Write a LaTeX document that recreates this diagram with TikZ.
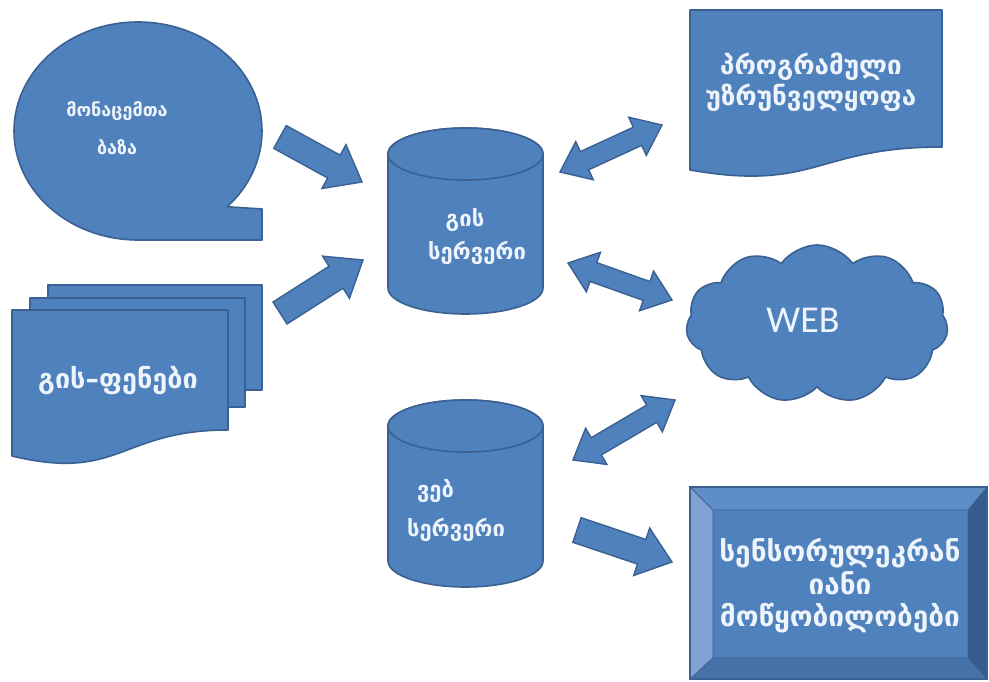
\documentclass[tikz,border=0pt]{standalone}
\usepackage{fontspec}
\newfontfamily\geo{DejaVu Sans}
\newfontfamily\webfont{Carlito}
\usetikzlibrary{calc,shapes.symbols}
\definecolor{fillb}{HTML}{4F81BD}
\definecolor{lineb}{HTML}{3A6192}
\definecolor{txt}{HTML}{EEF4FC}
\definecolor{bevT}{HTML}{5F8DC6}
\definecolor{bevL}{HTML}{7FA2D2}
\definecolor{bevR}{HTML}{365C8E}
\definecolor{bevB}{HTML}{4670A8}
\tikzset{
  shp/.style={fill=fillb, draw=lineb, line width=1.6pt, line join=round},
  lbl/.style={text=txt, font=\geo\bfseries\fontsize{26}{31}\selectfont, align=center, inner sep=0pt},
  srvlbl/.style={text=txt, font=\geo\bfseries\fontsize{22}{33}\selectfont, align=center, inner sep=0pt},
  smalllbl/.style={text=txt, font=\geo\bfseries\fontsize{18}{38}\selectfont, align=center, inner sep=0pt},
  arr/.style={fill=fillb, draw=lineb, line width=1.4pt, line join=miter},
}
\newcommand\singlearrow[2]{%
  \coordinate (hb) at ($(#2)!32pt!(#1)$);
  \draw[arr] ($(#1)!13pt!90:(#2)$) -- ($(hb)!13pt!90:(#2)$) -- ($(hb)!25pt!90:(#2)$) -- (#2)
    -- ($(hb)!25pt!-90:(#2)$) -- ($(hb)!13pt!-90:(#2)$) -- ($(#1)!13pt!-90:(#2)$) -- cycle;
}
\newcommand\doublearrow[2]{%
  \coordinate (ha) at ($(#1)!27pt!(#2)$);
  \coordinate (hb) at ($(#2)!27pt!(#1)$);
  \draw[arr] (#1) -- ($(ha)!21pt!90:(#2)$) -- ($(ha)!10pt!90:(#2)$) -- ($(hb)!10pt!-90:(#1)$)
    -- ($(hb)!21pt!-90:(#1)$) -- (#2) -- ($(hb)!21pt!90:(#1)$) -- ($(hb)!10pt!90:(#1)$)
    -- ($(ha)!10pt!-90:(#2)$) -- ($(ha)!21pt!-90:(#2)$) -- cycle;
}
\begin{document}
\begin{tikzpicture}[x=1pt,y=-1pt]
\useasboundingbox[fill=white] (0,0) rectangle (989,682);

% speech bubble: database
\draw[shp] (138,240) arc[start angle=90, end angle=404, x radius=124, y radius=109]
  -- (262,209) -- (262,240) -- cycle;
\node[smalllbl] (db) at (117,128) {მონაცემთა\\ბაზა};

% stacked documents: GIS layers
\draw[shp] (48,285) rectangle (262,390);
\draw[shp] (30,298) rectangle (245,407);
\draw[shp] (12,310) -- (228,310) -- (228,430) .. controls (120,430) and (120,482) .. (12,456) -- cycle;
\node[lbl, font=\geo\bfseries\fontsize{27}{30}\selectfont] (layers) at (118,381) {გის–ფენები};

% GIS server cylinder
\draw[shp] (388,154) -- (388,288) arc[start angle=180, end angle=0, x radius=77.5, y radius=26]
  -- (543,154) arc[start angle=0, end angle=-180, x radius=77.5, y radius=26] -- cycle;
\draw[shp] (465.5,154) ellipse[x radius=77.5, y radius=26];
\node[srvlbl] (gis) at (477,237) {\hspace*{-24pt}გის\\სერვერი};

% Web server cylinder
\draw[shp] (388,426) -- (388,561) arc[start angle=180, end angle=0, x radius=77.5, y radius=26]
  -- (543,426) arc[start angle=0, end angle=-180, x radius=77.5, y radius=26] -- cycle;
\draw[shp] (465.5,426) ellipse[x radius=77.5, y radius=26];
\node[srvlbl, align=left, font=\geo\bfseries\fontsize{22}{39}\selectfont] (websrv) at (456,510) {\hspace*{10pt}ვებ\\სერვერი};

% software document
\draw[shp] (690,10) -- (942,10) -- (942,147) .. controls (816,147) and (816,192) .. (690,170) -- cycle;
\node[lbl] (soft) at (811,82) {პროგრამული\\უზრუნველყოფა};

% cloud
\node[cloud, cloud puffs=11, cloud puff arc=110, aspect=1.7, shp, minimum width=262pt, minimum height=158pt, inner sep=0pt] (webcloud) at (817,324) {};
\node[text=txt, font=\webfont\fontsize{38}{40}\selectfont, inner sep=0pt] (webtxt) at (803,320) {WEB};

% bevel box
\fill[bevT] (690,487) -- (987,487) -- (968,510) -- (713,510) -- cycle;
\fill[bevL] (690,487) -- (713,510) -- (713,658) -- (690,679) -- cycle;
\fill[bevR] (987,487) -- (987,679) -- (968,658) -- (968,510) -- cycle;
\fill[bevB] (690,679) -- (987,679) -- (968,658) -- (713,658) -- cycle;
\fill[fillb] (713,510) rectangle (968,658);
\draw[lineb, line width=0.8pt] (690,487) -- (713,510) (987,487) -- (968,510) (690,679) -- (713,658) (987,679) -- (968,658) (713,510) rectangle (968,658);
\draw[lineb, line width=1.6pt] (690,487) rectangle (987,679);
\node[lbl, font=\geo\bfseries\fontsize{28}{32.5}\selectfont] (sensor) at (840,586) {სენსორულეკრან\\იანი\\მოწყობილობები};

% arrows
\coordinate (a1t) at (280,137); \coordinate (a1h) at (362,182);
\coordinate (a2t) at (280,313); \coordinate (a2h) at (363,260);
\coordinate (a3a) at (560,172); \coordinate (a3b) at (662,125);
\coordinate (a4a) at (568,263); \coordinate (a4b) at (672,300);
\coordinate (a5a) at (573,460); \coordinate (a5b) at (675,400);
\coordinate (a6t) at (577,530); \coordinate (a6h) at (672,562);
\singlearrow{a1t}{a1h}
\singlearrow{a2t}{a2h}
\doublearrow{a3a}{a3b}
\doublearrow{a4a}{a4b}
\doublearrow{a5a}{a5b}
\singlearrow{a6t}{a6h}
\end{tikzpicture}
\end{document}
